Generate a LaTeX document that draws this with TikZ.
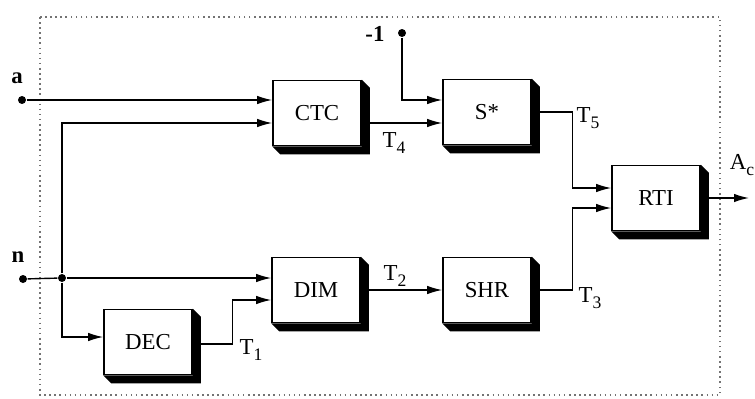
\documentclass[tikz,border=0pt]{standalone}
\usepackage{fontspec}
\setmainfont{Liberation Serif}
\usetikzlibrary{arrows.meta,calc}
\newcommand{\sig}[2]{#1\raisebox{-.55ex}{\fontsize{10}{12}\selectfont #2}}
\tikzset{
  blk/.style={draw,line width=.9pt,fill=white,minimum width=1.76cm,minimum height=1.30cm,
    inner sep=0pt,font=\fontsize{13}{15}\selectfont},
  arr/.style={-{Latex[length=3mm,width=1.7mm]}},
  pin/.style={circle,fill,inner sep=0pt,minimum size=1.6mm},
  lbl/.style={font=\fontsize{13}{15}\selectfont,inner sep=0pt},
}

\begin{document}
\begin{tikzpicture}[x=0.02cm,y=-0.02cm,line width=.8pt]
\useasboundingbox (0,0) rectangle (755,399);
% dotted frame
\draw[dotted,black!55,line width=.9pt] (40,17) rectangle (720,395);
% blocks
\node[blk] (ctc) at (317,113) {CTC};
\node[blk] (sst) at (487,112) {S*};
\node[blk] (rti) at (656,198) {RTI};
\node[blk] (dim) at (316,290) {DIM};
\node[blk] (shr) at (487,290) {SHR};
\node[blk] (dec) at (148,342) {DEC};
% solid extrusion under each block
\foreach \b in {ctc,sst,rti,dim,shr,dec}
  \fill (\b.north east) -- ($(\b.north east)+(8,8)$) -- ($(\b.south east)+(8,8)$)
    -- ($(\b.south west)+(8,8)$) -- (\b.south west) -- (\b.south east) -- cycle;
% inputs
\node[pin] (ina) at (22,100) {};
\node[lbl,font=\fontsize{13}{15}\selectfont\bfseries] (la) at (17,78) {a};
\node[pin] (inn) at (23,279) {};
\node[lbl,font=\fontsize{13}{15}\selectfont\bfseries] (ln) at (18,257) {n};
\node[pin] (jn) at (62,278) {};
\node[pin] (inm) at (402,33) {};
\node[lbl,font=\fontsize{13}{15}\selectfont\bfseries] (lm) at (375,34) {-1};
\coordinate (out) at (749,198);
% connectors
\draw[arr] (ina) -- (ina -| ctc.west);
\draw (inn) -- (jn);
\draw[arr] (jn) |- ($(ctc.west)+(0,10)$);
\draw[arr] (jn) -- (jn -| dim.west);
\draw[arr] (jn) |- ($(dec.west)+(0,-5)$);
\draw[arr] ($(dec.east)+(0,2)$) -- ++(40,0) |- ($(dim.west)+(0,10)$);
\draw[arr] (inm) |- ($(sst.west)+(0,-12)$);
\draw[arr] ($(ctc.east)+(0,10)$) coordinate (c4) -- (c4 -| sst.west);
\draw[arr] (dim.east) -- (shr.west);
\draw[arr] (sst.east) -- ++(41,0) |- ($(rti.west)+(0,-10)$);
\draw[arr] (shr.east) -- ++(41,0) |- ($(rti.west)+(0,10)$);
\draw[arr] (rti.east) -- (out);
% signal names
\node[lbl] (t1) at (251,350) {\sig{T}{1}};
\node[lbl] (t2) at (395,276) {\sig{T}{2}};
\node[lbl] (t3) at (590,298) {\sig{T}{3}};
\node[lbl] (t4) at (394,143) {\sig{T}{4}};
\node[lbl] (t5) at (588,118) {\sig{T}{5}};
\node[lbl] (ac) at (742,165) {\sig{A}{c}};
\end{tikzpicture}
\end{document}
